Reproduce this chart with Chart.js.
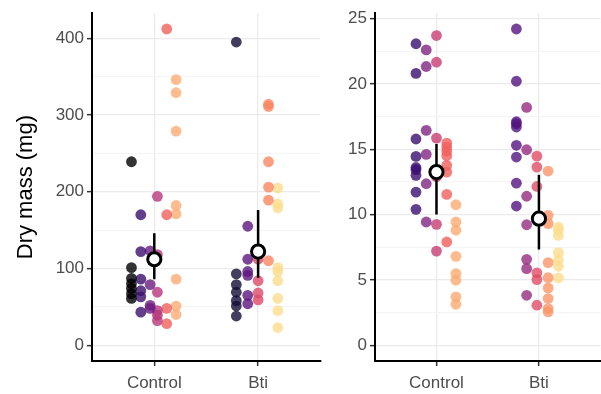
<!DOCTYPE html>
<html>
<head>
<meta charset="utf-8">
<script src="https://cdn.jsdelivr.net/npm/chart.js@4.4.0/dist/chart.umd.min.js"></script>
<style>
  html, body { margin: 0; padding: 0; background: #fff; overflow: hidden; width: 601px; height: 394px; }
  canvas { position: absolute; top: 0; }
  #left { left: 0; }
  #right { left: 330px; }
</style>
</head>
<body>
<canvas id="left" width="330" height="394"></canvas>
<canvas id="right" width="280" height="394"></canvas>
<script>
// ===== DATA =====
const categories = ["Control", "Bti"];

// left panel: dry mass (mg), points grouped by colour within each treatment
const massTicks = [0, 100, 200, 300, 400];
const massControl = [
  [239, 101, 87, 80, 74, 67, 61],
  [170, 122, 86, 71, 63, 43],
  [123, 79, 52, 48],
  [194, 118, 69, 45, 39, 32],
  [412, 170, 48, 28],
  [346, 329, 279, 182, 171, 86, 51, 40]
];
const massBti = [
  [395, 93, 79, 69, 58, 51, 38],
  [155, 112, 96, 91, 65, 54],
  [112, 84, 68, 59],
  [314, 311, 239, 206, 189, 110],
  [205, 184, 179, 101, 96, 84, 61, 45, 23]
];
const massMean = [112, 122];
const massLow = [86, 88];
const massHigh = [146, 176];

// right panel
const rightTicks = [0, 5, 10, 15, 20, 25];
const rightControl = [
  [23.07, 20.8, 15.78, 14.45, 13.6, 13.43, 13.0, 11.72, 10.4],
  [22.6, 21.33, 16.44, 14.6, 12.36, 9.43],
  [23.7, 21.66, 15.85, 12.9, 9.25, 7.2],
  [15.47, 15.16, 14.85, 14.5, 13.76, 13.25, 11.54, 7.9],
  [10.75, 9.43, 8.8, 6.8, 5.48, 4.97, 3.7, 3.13]
];
const rightBti = [
  [24.2, 20.2, 17.1, 16.95, 16.7, 15.3, 14.4, 12.4, 10.65],
  [18.2, 14.96, 11.4, 9.22, 6.57, 5.86, 3.82],
  [14.47, 13.63, 12.15, 5.53, 5.02, 3.06],
  [13.33, 9.94, 9.3, 6.32, 5.17, 4.38, 3.57, 2.8, 2.55],
  [9.04, 8.8, 8.4, 7.08, 6.5, 6.04, 5.15]
];
const rightMean = [13.25, 9.68];
const rightLow = [10.0, 7.32];
const rightHigh = [15.4, 13.05];

// ===== STYLE =====
const FONT = "'Liberation Sans', Arial, sans-serif";
const ALPHA = "cc";

const massColors = [
  ["#000004", "#3a0f6e", "#6a1c81", "#b8377a", "#f1605d", "#fdad75"],
  ["#140e36", "#5c167f", "#de4968", "#fb8761", "#fcdd8e"]
];
const massOffsets = [
  [-0.22, -0.13, -0.04, 0.03, 0.12, 0.21],
  [-0.21, -0.10, 0.0, 0.10, 0.19]
];
const rightColors = [
  ["#3b0f70", "#802582", "#c73d73", "#f1605d", "#fdaa72"],
  ["#55137f", "#952c80", "#e24d66", "#fd9668", "#fcdd8e"]
];
const rightOffsets = [
  [-0.20, -0.10, 0.0, 0.10, 0.19],
  [-0.22, -0.12, -0.02, 0.09, 0.19]
];

function buildPanel(id, groups, colors, offsets, mean, low, high, ticks, yMin, yMax, yWidth, title) {
  const step = ticks[1] - ticks[0];
  const allTicks = [];
  ticks.forEach(t => {
    allTicks.push(t);
    if (t + step / 2 < yMax) allTicks.push(t + step / 2);
  });

  const datasets = [];
  groups.forEach((cat, c) => {
    cat.forEach((vals, g) => {
      datasets.push({
        data: vals.map(v => ({ x: c + 1 + offsets[c][g], y: v })),
        backgroundColor: colors[c][g] + ALPHA,
        borderWidth: 0,
        pointRadius: 5.4,
        order: 3
      });
    });
    datasets.push({
      data: [{ x: c + 1, y: low[c] }, { x: c + 1, y: high[c] }],
      showLine: true,
      borderColor: "#000",
      borderWidth: 2.5,
      pointRadius: 0,
      order: 2
    });
  });
  datasets.push({
    data: mean.map((m, i) => ({ x: i + 1, y: m })),
    backgroundColor: "#fff",
    borderColor: "#000",
    borderWidth: 3,
    pointRadius: 6.6,
    order: 1
  });

  return new Chart(document.getElementById(id), {
    type: "scatter",
    data: { datasets },
    options: {
      responsive: false,
      animation: false,
      events: [],
      layout: { padding: { top: 12, right: 0, bottom: 0, left: 0 } },
      plugins: { legend: { display: false }, tooltip: { enabled: false } },
      scales: {
        x: {
          type: "linear",
          min: 0.4,
          max: 2.6,
          afterBuildTicks: s => { s.ticks = categories.map((_, i) => ({ value: i + 1 })); },
          afterFit: s => { s.height = 33; },
          ticks: {
            callback: v => categories[v - 1],
            font: { family: FONT, size: 17 },
            color: "#4d4d4d",
            padding: 7,
            maxRotation: 0
          },
          grid: { color: "#ebebeb", lineWidth: 1.3, tickLength: 5, tickColor: "#333", tickWidth: 1.5 },
          border: { color: "#000", width: 2 }
        },
        y: {
          min: yMin,
          max: yMax,
          afterBuildTicks: s => { s.ticks = allTicks.map(v => ({ value: v })); },
          afterFit: s => { s.width = yWidth; },
          title: title ? {
            display: true,
            text: title,
            color: "#000",
            font: { family: FONT, size: 22 },
            padding: { top: 13, bottom: 0 }
          } : { display: false },
          ticks: {
            autoSkip: false,
            callback: v => ticks.includes(v) ? String(v) : "",
            font: { family: FONT, size: 17 },
            color: "#4d4d4d",
            padding: 3
          },
          grid: {
            color: c => ticks.includes(c.tick.value) ? "#ebebeb" : "#f4f4f4",
            lineWidth: c => ticks.includes(c.tick.value) ? 1.3 : 1,
            tickLength: 5,
            tickColor: c => ticks.includes(c.tick.value) ? "#333" : "rgba(0,0,0,0)",
            tickWidth: 1.5
          },
          border: { color: "#000", width: 2 }
        }
      }
    }
  });
}

buildPanel("left", [massControl, massBti], massColors, massOffsets,
  massMean, massLow, massHigh, massTicks, -20.6, 432.6, 92, "Dry mass (mg)");
buildPanel("right", [rightControl, rightBti], rightColors, rightOffsets,
  rightMean, rightLow, rightHigh, rightTicks, -1.21, 25.41, 45, null);
</script>
</body>
</html>
